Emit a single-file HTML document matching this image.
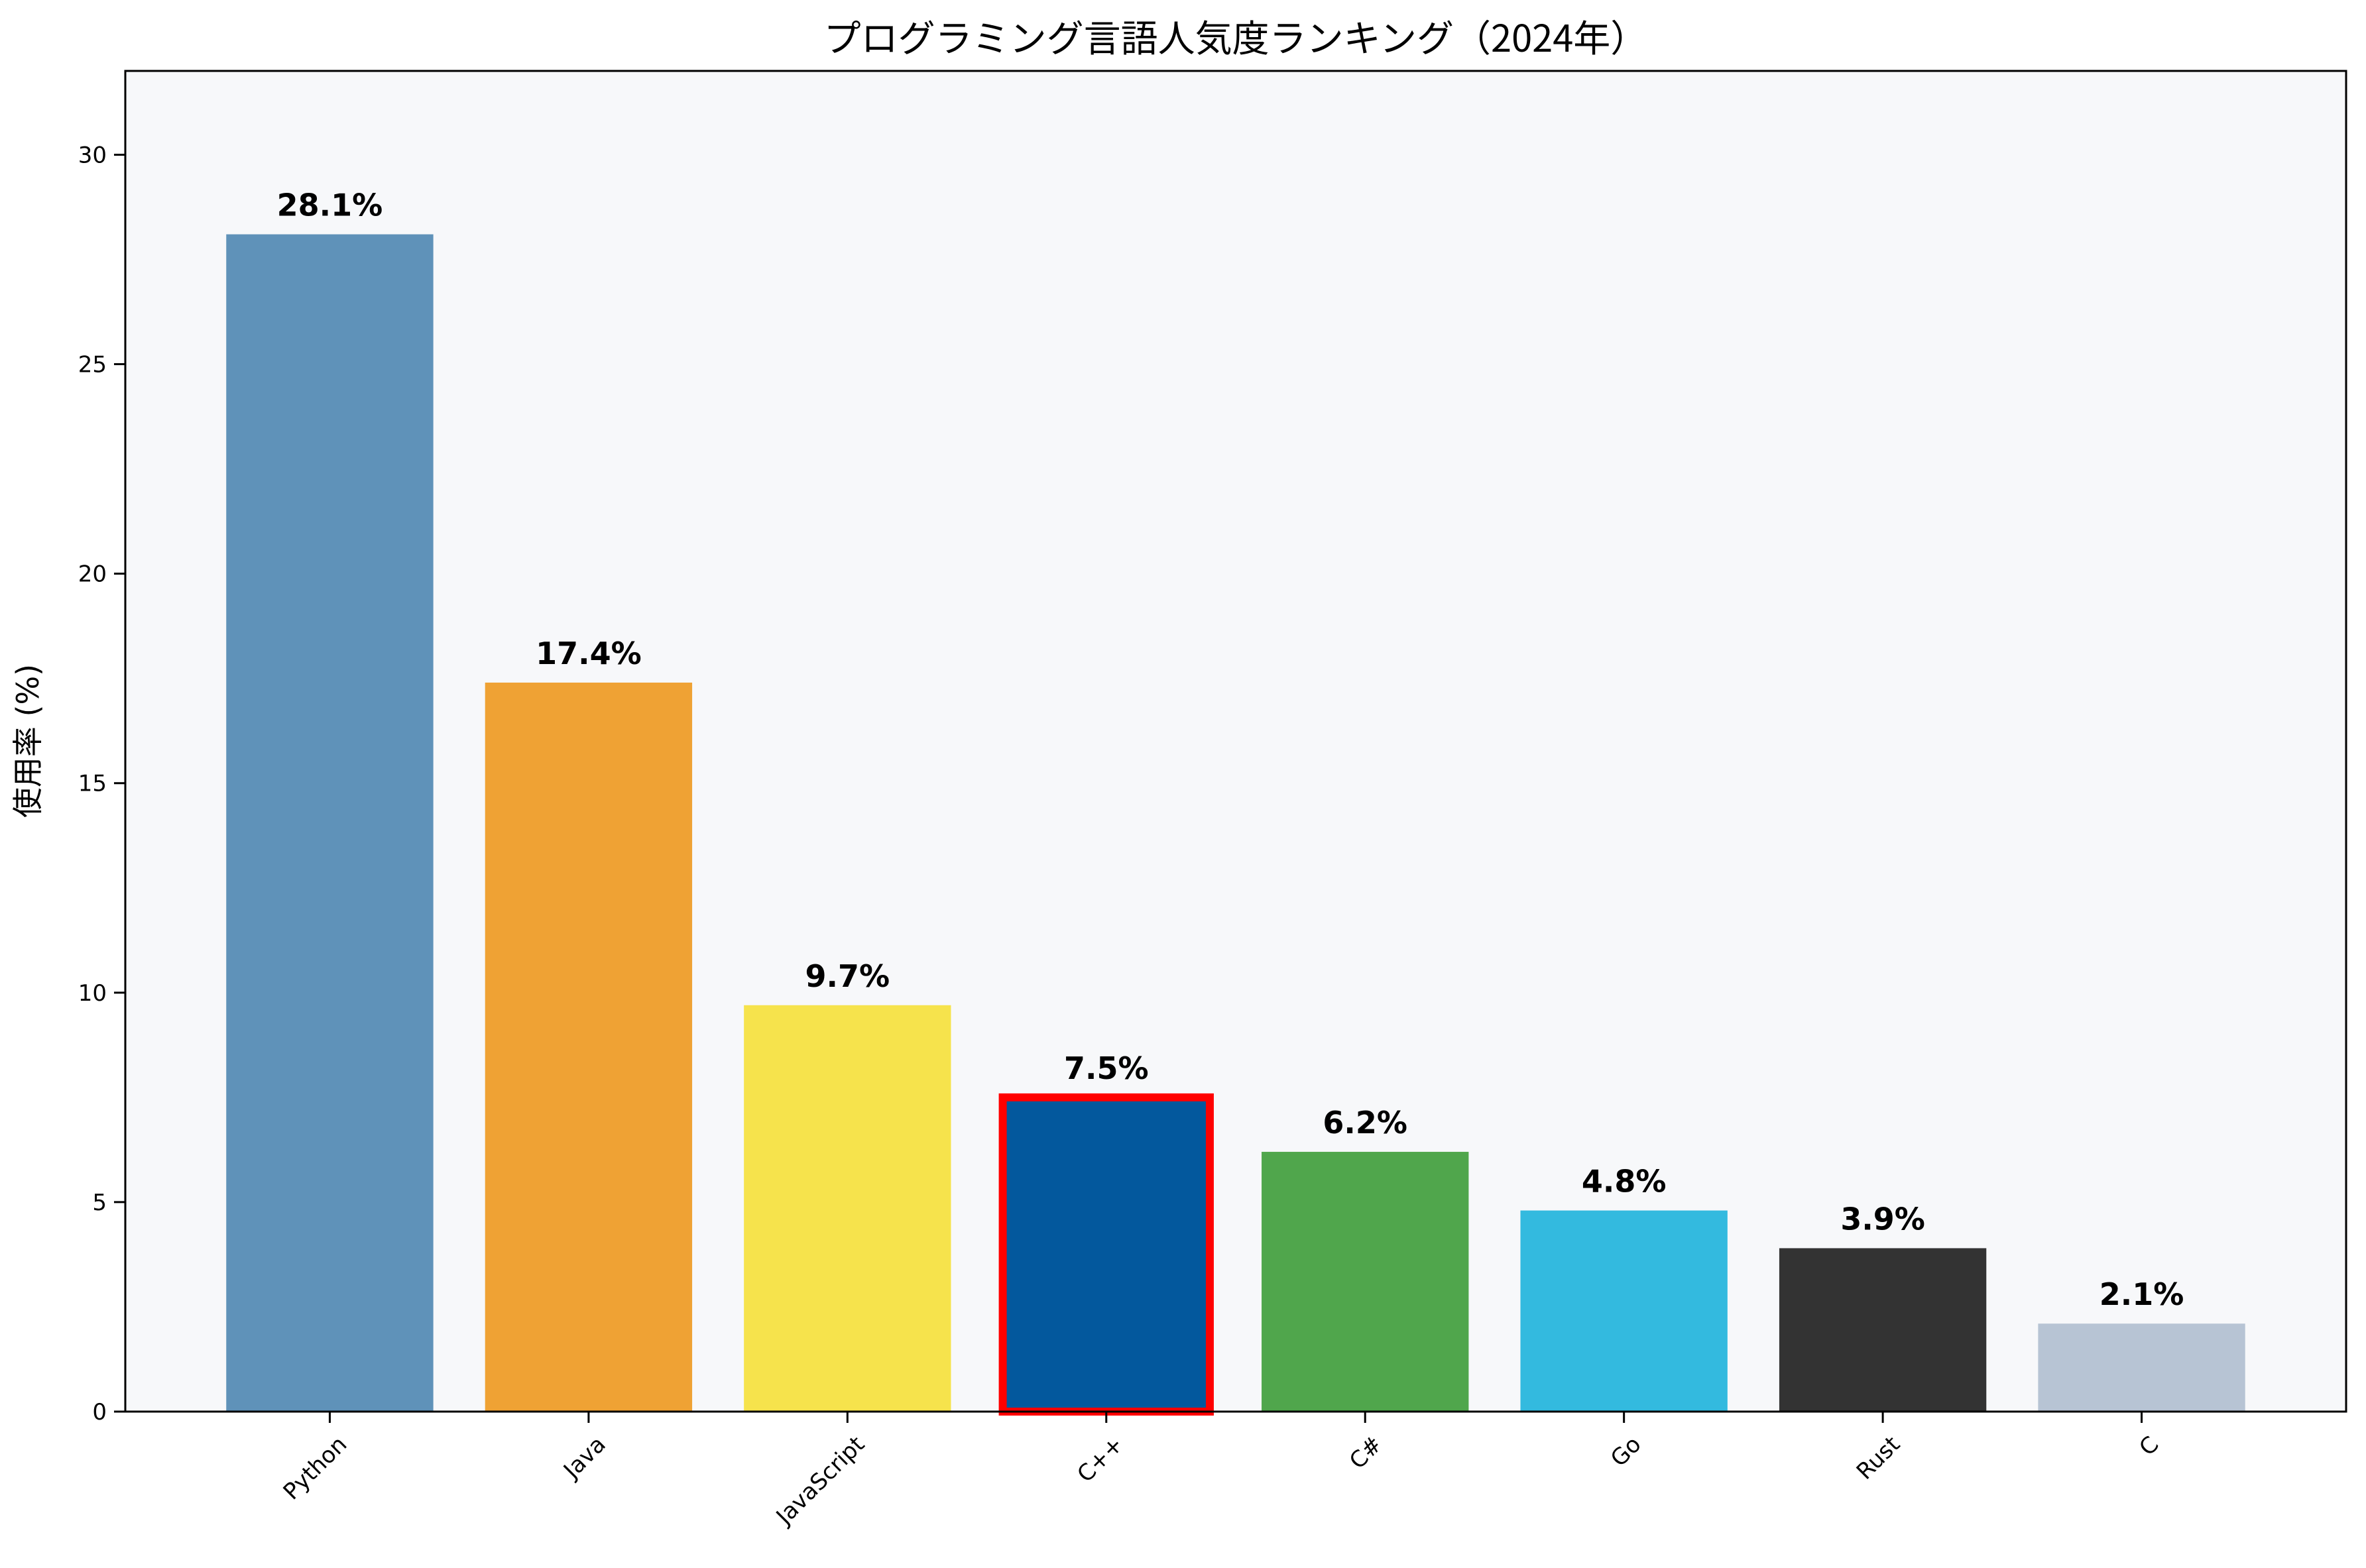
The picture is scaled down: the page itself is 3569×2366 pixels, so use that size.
<!DOCTYPE html>
<html><head><meta charset="utf-8"><style>
html,body{margin:0;padding:0;background:#fff;}
svg{display:block;font-family:"DejaVu Sans","Liberation Sans","Noto Sans CJK JP",sans-serif;}
</style></head><body>
<svg id="chart" width="3569" height="2366" viewBox="0 0 3569 2366" xmlns="http://www.w3.org/2000/svg">
<rect x="0" y="0" width="3569" height="2366" fill="#ffffff"/>
<rect x="189" y="107" width="3350" height="2023" fill="#f7f8fa"/>
<g id="bars"></g><g id="labels"></g><g id="yticks"></g><g id="xticks"></g>
<rect x="189" y="107" width="3350" height="2023" fill="none" stroke="#000" stroke-width="3"/>
<text x="1864" y="78" text-anchor="middle" font-size="56" font-family="'Noto Sans CJK JP',sans-serif">プログラミング言語人気度ランキング（2024年）</text>
<text transform="translate(58,1118) rotate(-90)" text-anchor="middle" font-size="46" font-family="'DejaVu Sans','Noto Sans CJK JP',sans-serif">使用率 (%)</text>
</svg>
<script>
const categories=["Python","Java","JavaScript","C++","C#","Go","Rust","C"];
const values=[28.1,17.4,9.7,7.5,6.2,4.8,3.9,2.1];
const colors=["#5f92b9","#efa234","#f6e34c","#03589d","#50a64c","#33badf","#333333","#b7c4d4"];
const yTicks=[0,5,10,15,20,25,30];
const highlight="C++";
const NS="http://www.w3.org/2000/svg";
const L=189,R=3539,T=107,B=2130,xmin=-0.79,xmax=7.79,ymax=32;
const xs=i=>L+(i-xmin)/(xmax-xmin)*(R-L);
const ys=v=>B-v/ymax*(B-T);
const bw=0.8*(R-L)/(xmax-xmin);
function mk(t,a,p){const e=document.createElementNS(NS,t);for(const k in a)e.setAttribute(k,a[k]);p.appendChild(e);return e;}
const gb=document.getElementById('bars'),gl=document.getElementById('labels'),gy=document.getElementById('yticks'),gx=document.getElementById('xticks');
categories.forEach((c,i)=>{
  const hl=c===highlight;
  const r=mk('rect',{x:xs(i)-bw/2,y:ys(values[i]),width:bw,height:B-ys(values[i]),fill:colors[i]},gb);
  if(hl){r.setAttribute('stroke','#ff0000');r.setAttribute('stroke-width','12');}
  
  
  const t=mk('text',{x:xs(i),y:ys(values[i])-28,'text-anchor':'middle','font-size':'46','font-weight':'bold'},gl);
  t.textContent=values[i].toFixed(1)+'%';
  
  
  const tk=mk('line',{x1:xs(i),x2:xs(i),y1:B,y2:B+17,stroke:'#000','stroke-width':'3'},gx);
  
  
  const lx=xs(i)+10,ly=B+34;
  const xl=mk('text',{x:lx,y:ly,'text-anchor':'end','font-size':'34','dominant-baseline':'hanging',transform:`rotate(-45 ${lx} ${ly})`},gx);
  xl.textContent=c;
  
  
});
yTicks.forEach(v=>{
  const l=mk('line',{x1:L-17,x2:L,y1:ys(v),y2:ys(v),stroke:'#000','stroke-width':'3'},gy);
  
  
  const t=mk('text',{x:L-28,y:ys(v)+12,'text-anchor':'end','font-size':'34'},gy);
  t.textContent=v;
  
  
});
</script>
</body></html>
